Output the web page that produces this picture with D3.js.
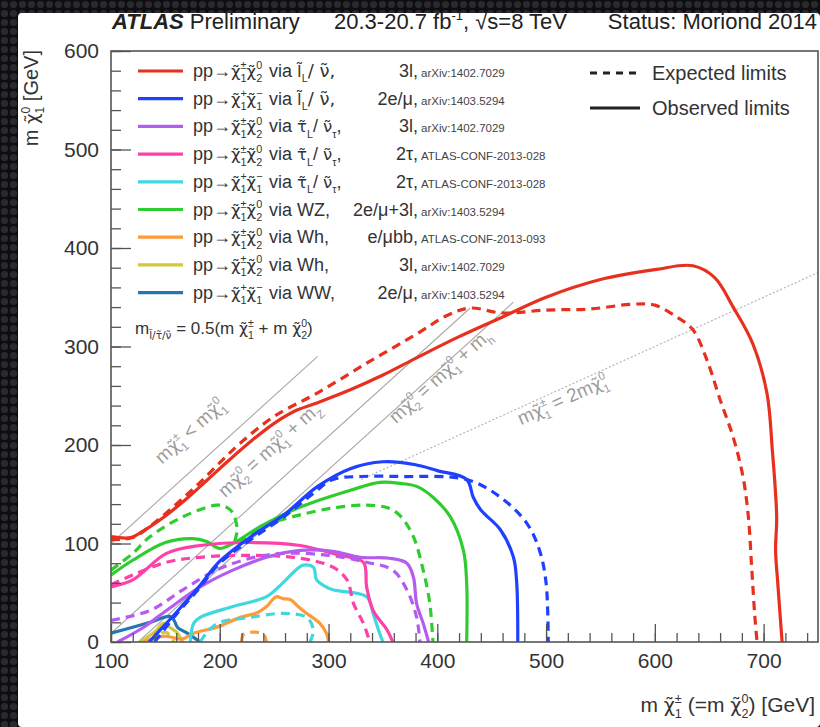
<!DOCTYPE html>
<html><head><meta charset="utf-8">
<script src="https://cdn.jsdelivr.net/npm/d3@7"></script>
<style>html,body{margin:0;padding:0;background:#151515;}svg{display:block;font-family:"Liberation Sans",Arial,sans-serif;}</style>
</head><body>
<svg id="chart" width="820" height="727"></svg>
<script>
// ---------- data ----------
const xTicks = [100, 200, 300, 400, 500, 600, 700];
const yTicks = [0, 100, 200, 300, 400, 500, 600];

const seriesColors = ["#e8301f", "#2040ff", "#b45cf0", "#ff40a8", "#40d8e0", "#2fcc2f", "#ff9a38", "#d2c83c", "#2277b0"];
const seriesVia = ["l", "l", "tau", "tau", "tau", "WZ", "Wh", "Wh", "WW"];
const seriesProd = ["C1N2", "C1C1", "C1N2", "C1N2", "C1C1", "C1N2", "C1N2", "C1N2", "C1C1"];
const seriesChannel = ["3l,", "2e/μ,", "3l,", "2τ,", "2τ,", "2e/μ+3l,", "e/μbb,", "3l,", "2e/μ,"];
const seriesRef = ["arXiv:1402.7029", "arXiv:1403.5294", "arXiv:1402.7029", "ATLAS-CONF-2013-028", "ATLAS-CONF-2013-028", "arXiv:1403.5294", "ATLAS-CONF-2013-093", "arXiv:1402.7029", "arXiv:1403.5294"];

// observed limits [m_chargino, m_LSP]
const obsRed = [[100,107],[118,106],[130,113],[150,128],[170,146],[190,166],[210,186],[230,205],[250,222],[270,235],[290,243],[320,256],[350,271],[380,288],[420,310],[460,330],[500,350],[550,368],[600,378],[635,382],[655,370],[672,340],[690,303],[703,253],[708,195],[712,127],[711,93],[713,60],[717,0]];
const obsBlue = [[135,0],[145,12],[160,30],[180,55],[200,82],[230,108],[260,130],[290,158],[320,176],[350,183],[380,180],[400,174],[427,165],[433,147],[440,134],[458,114],[470,86],[473,60],[474,0]];
const obsPurple = [[106,0],[130,15],[151,32],[182,56],[212,73],[243,86],[274,93],[304,92],[329,86],[356,85],[372,80],[378,66],[381,39],[387,19],[392,0]];
const obsPink = [[100,56],[120,63],[151,90],[182,98],[228,101],[274,98],[310,88],[332,81],[335,56],[341,32],[354,12],[359,0]];
const obsCyan = [[173,0],[176,19],[182,25],[212,36],[243,46],[258,60],[272,75],[277,78],[286,76],[289,63],[296,57],[304,53],[335,46],[341,29],[346,12],[350,0]];
const obsGreen = [[100,68],[120,83],[150,101],[175,105],[188,102],[200,95],[212,100],[237,117],[274,137],[320,154],[347,162],[366,161],[381,158],[396,147],[412,127],[424,93],[427,60],[427,0]];
const obsOrange = [[130,0],[140,4],[150,6],[165,3],[176,9],[197,15],[219,25],[235,30],[243,36],[252,46],[258,44],[265,43],[272,36],[280,29],[292,19],[298,9],[300,0]];
const obsYellow = [[127,0],[135,6],[142,12],[148,19],[154,15],[158,12],[161,9],[166,0]];
const obsTeal = [[100,9],[120,15],[136,20],[154,26],[158,22],[161,15],[170,9],[182,0]];

// expected limits
const expRed = [[100,104],[120,106],[140,121],[160,140],[180,160],[200,182],[220,203],[250,229],[290,253],[335,283],[380,312],[410,332],[430,339],[460,334],[500,337],[540,338],[580,343],[600,342],[620,330],[635,317],[648,286],[660,246],[672,208],[681,168],[686,127],[689,76],[692,25],[694,0]];
const expBlue = [[140,0],[160,28],[180,53],[200,80],[230,105],[260,128],[285,150],[304,165],[330,168],[366,168],[427,165],[458,147],[482,121],[494,93],[500,60],[502,0]];
const expPurple = [[100,22],[136,32],[166,53],[197,73],[228,85],[258,90],[300,88],[335,81],[359,73],[372,53],[381,25],[384,0]];
const expPink = [[100,58],[120,68],[151,81],[182,86],[228,88],[274,85],[304,76],[317,63],[323,39],[332,19],[338,0]];
const expCyan = [[182,0],[190,12],[200,20],[228,25],[258,29],[280,25],[286,12],[283,0]];
const expGreen = [[100,73],[120,90],[136,107],[166,127],[197,139],[206,137],[212,131],[216,114],[214,100],[222,105],[240,118],[270,128],[304,136],[335,139],[355,136],[366,128],[378,107],[387,73],[393,40],[396,0]];
const expOrange = [[220,0],[222,8],[232,10],[240,8],[243,0]];
const expYellow = [[135,0],[142,6],[150,10],[155,6],[158,0]];
const expTeal = [];

const obsCurves = [obsRed, obsBlue, obsPurple, obsPink, obsCyan, obsGreen, obsOrange, obsYellow, obsTeal];
const expCurves = [expRed, expBlue, expPurple, expPink, expCyan, expGreen, expOrange, expYellow, expTeal];

// kinematic reference lines (data coordinates)
const refLines = [
  {x1: 100, y1: 100, x2: 290, y2: 290, dash: null},          // m(chi1+-) = m(chi1^0)
  {x1: 100, y1: 8.8, x2: 430, y2: 338.8, dash: null},        // m(chi2^0) = m(chi1^0) + mZ
  {x1: 125, y1: 0, x2: 470, y2: 345, dash: null},            // m(chi2^0) = m(chi1^0) + mh
  {x1: 330, y1: 165, x2: 750, y2: 375, dash: "2,2"}          // m(chi1+-) = 2 m(chi1^0)
];

// ---------- drawing ----------
const svg = d3.select("#chart");
const W = 820, H = 727;

const defs = svg.append("defs");
const pat = defs.append("pattern").attr("id", "dots").attr("width", 9).attr("height", 9).attr("patternUnits", "userSpaceOnUse");
pat.append("rect").attr("width", 9).attr("height", 9).attr("fill", "#0e0e10");
pat.append("circle").attr("cx", 4.5).attr("cy", 4.5).attr("r", 3.6).attr("fill", "#2a2a2e");
svg.append("rect").attr("width", W).attr("height", H).attr("fill", "url(#dots)");
svg.append("rect").attr("x", 18).attr("y", 13).attr("width", W - 18).attr("height", H - 13).attr("rx", 4).attr("fill", "#ffffff");

const x = d3.scaleLinear().domain([100, 750]).range([111, 818]);
const y = d3.scaleLinear().domain([0, 600]).range([642, 51]);

defs.append("clipPath").attr("id", "plotclip").append("rect")
  .attr("x", x(100)).attr("y", y(600)).attr("width", x(750) - x(100)).attr("height", y(0) - y(600));

const TILDE_FONT = "DejaVu Sans";
function styleTilde(ts, str) { if (str && str.indexOf("\u0303") >= 0) ts.attr("font-family", TILDE_FONT); return ts; }

// rich text helper: tokens are strings or [base, sup, sub]
function rich(t, tokens, fs, subScale) {
  const sc = subScale || 0.6;
  let off = 0;
  tokens.forEach(tok => {
    if (typeof tok === "string") {
      styleTilde(t.append("tspan").attr("dy", -off).text(tok), tok); off = 0;
    } else {
      const [b, sup, sub] = tok;
      if (b) {
        const bt = t.append("tspan").attr("dy", -off).text(b); off = 0;
        if (b.indexOf("\u0303") >= 0) bt.attr("font-family", TILDE_FONT).attr("font-size", fs * 0.92);
      }
      let w = 0;
      if (sup) {
        const s = t.append("tspan").attr("font-size", fs * sc).attr("dy", -fs * 0.42 - off).text(sup);
        off = -fs * 0.42; w = s.node().getComputedTextLength();
      }
      if (sub) {
        const s = t.append("tspan").attr("font-size", fs * sc).attr("dy", fs * 0.3 - off).text(sub);
        styleTilde(s, sub);
        if (sup) s.attr("dx", -w);
        off = fs * 0.3;
      }
    }
  });
}

const C1pm = ["χ\u0303", "±", "1"], C1p = ["χ\u0303", "+", "1"], C1m = ["χ\u0303", "−", "1"], N2 = ["χ\u0303", "0", "2"], N1 = ["χ\u0303", "0", "1"];

// reference lines
const gRef = svg.append("g").attr("clip-path", "url(#plotclip)");
gRef.selectAll("line").data(refLines).join("line")
  .attr("x1", d => x(d.x1)).attr("y1", d => y(d.y1)).attr("x2", d => x(d.x2)).attr("y2", d => y(d.y2))
  .attr("stroke", d => d.dash ? "#b0b0b0" : "#a8a8a8").attr("stroke-width", 1.1)
  .attr("stroke-dasharray", d => d.dash);

// reference line labels
const ang45 = Math.atan((y(0) - y(100)) / (x(200) - x(100))) * 180 / Math.PI;
const ang2 = Math.atan((y(0) - y(50)) / (x(200) - x(100))) * 180 / Math.PI;
const refLabels = [
  {x: 147, y: 180, a: ang45, tokens: ["m", C1pm, " < m", N1]},
  {x: 205, y: 146, a: ang45, tokens: ["m", N2, " = m", N1, " + m", ["", null, "Z"]]},
  {x: 362, y: 221, a: ang45, tokens: ["m", N2, " = m", N1, " + m", ["", null, "h"]]},
  {x: 477, y: 220, a: ang2, tokens: ["m", C1pm, " = 2m", N1]}
];
refLabels.forEach(l => {
  const t = svg.append("text").attr("transform", `translate(${x(l.x)},${y(l.y)}) rotate(${-l.a})`)
    .attr("font-size", 19).attr("fill", "#9c9c9c");
  rich(t, l.tokens, 19);
});
{
  const t = svg.append("text").attr("x", 135).attr("y", 334).attr("font-size", 17).attr("fill", "#333");
  rich(t, ["m", ["", null, "l\u0303/τ\u0303/ν\u0303"], " = 0.5(m ", C1pm, " + m ", N2, ")"], 17, 0.62);
}

// curves
const line = d3.line().x(d => x(d[0])).y(d => y(d[1])).curve(d3.curveCatmullRom.alpha(0.5));
const gCurves = svg.append("g").attr("clip-path", "url(#plotclip)");
for (let i = seriesColors.length - 1; i >= 0; i--) {
  if (expCurves[i].length) gCurves.append("path").attr("d", line(expCurves[i])).attr("fill", "none")
    .attr("stroke", seriesColors[i]).attr("stroke-width", 3.2).attr("stroke-dasharray", "9,6");
  if (obsCurves[i].length) gCurves.append("path").attr("d", line(obsCurves[i])).attr("fill", "none")
    .attr("stroke", seriesColors[i]).attr("stroke-width", 3.2);
}

// axes
const axColor = "#555";
const gx = svg.append("g").attr("transform", `translate(0,${y(0)})`);
gx.call(d3.axisBottom(x).tickValues(d3.range(100, 751, 20)).tickSize(-9).tickFormat(""));
gx.append("g").call(d3.axisBottom(x).tickValues(xTicks).tickSize(-18).tickPadding(11).tickFormat(d3.format("d")));
const gy = svg.append("g").attr("transform", `translate(${x(100)},0)`);
gy.call(d3.axisLeft(y).tickValues(d3.range(0, 601, 20)).tickSize(-10).tickFormat(""));
gy.append("g").call(d3.axisLeft(y).tickValues(yTicks).tickSize(-20).tickPadding(12).tickFormat(d3.format("d")));
svg.selectAll(".domain").remove();
svg.selectAll(".tick text").filter(function () { return this.textContent === ""; }).remove();
svg.selectAll(".tick line").attr("stroke", axColor).attr("stroke-width", 1.3);
svg.selectAll(".tick text").attr("font-size", 21).attr("fill", "#333").attr("font-family", "Liberation Sans, Arial, sans-serif");

svg.append("rect").attr("x", x(100)).attr("y", y(600)).attr("width", x(750) - x(100)).attr("height", y(0) - y(600))
  .attr("fill", "none").attr("stroke", axColor).attr("stroke-width", 1.6);

// axis titles
{
  const t = svg.append("text").attr("text-anchor", "end").attr("x", 815).attr("y", 712).attr("font-size", 21).attr("fill", "#333");
  rich(t, ["m ", C1pm, " (=m ", N2, ") [GeV]"], 21);
  const ty = svg.append("text").attr("text-anchor", "end").attr("transform", "translate(38,50) rotate(-90)").attr("font-size", 20).attr("fill", "#333");
  rich(ty, ["m ", N1, " [GeV]"], 20);
}

// header
{
  const t = svg.append("text").attr("x", 112).attr("y", 29).attr("font-size", 22).attr("fill", "#222");
  t.append("tspan").attr("font-weight", "bold").attr("font-style", "italic").text("ATLAS");
  t.append("tspan").text(" Preliminary");
  const t2 = svg.append("text").attr("x", 334).attr("y", 29).attr("font-size", 22).attr("fill", "#222");
  t2.append("tspan").text("20.3-20.7 fb");
  t2.append("tspan").attr("font-size", 13).attr("dy", -9).text("-1");
  t2.append("tspan").attr("dy", 9).text(", √s=8 TeV");
  svg.append("text").attr("x", 817).attr("y", 29).attr("text-anchor", "end").attr("font-size", 22).attr("fill", "#222").text("Status: Moriond 2014");
}

// legend
const viaTokens = {
  l: [" via ", ["l\u0303", null, "L"], "/ ν\u0303,"],
  tau: [" via ", ["τ\u0303", null, "L"], "/ ", ["ν\u0303", null, "τ"], ","],
  WZ: [" via WZ,"], Wh: [" via Wh,"], WW: [" via WW,"]
};
const prodTokens = { C1N2: [C1pm, N2], C1C1: [C1p, C1m] };
const legY0 = 71, legDY = 27.7, fsL = 18;
seriesColors.forEach((c, i) => {
  const yy = legY0 + i * legDY;
  svg.append("line").attr("x1", 138).attr("x2", 183).attr("y1", yy).attr("y2", yy).attr("stroke", c).attr("stroke-width", 3.2);
  const t = svg.append("text").attr("x", 193).attr("y", yy + 6).attr("font-size", fsL).attr("fill", "#333");
  rich(t, ["pp→", ...prodTokens[seriesProd[i]]], fsL);
  const t2 = svg.append("text").attr("x", 269).attr("y", yy + 6).attr("font-size", fsL).attr("fill", "#333");
  rich(t2, viaTokens[seriesVia[i]], fsL);
  svg.append("text").attr("x", 418).attr("y", yy + 6).attr("text-anchor", "end").attr("font-size", fsL).attr("fill", "#333").text(seriesChannel[i]);
  svg.append("text").attr("x", 421).attr("y", yy + 6).attr("font-size", 11.5).attr("fill", "#444").text(seriesRef[i]);
});
// style legend
const styleLeg = [{label: "Expected limits", dash: "7,6", y: 73}, {label: "Observed limits", dash: null, y: 108}];
styleLeg.forEach(s => {
  svg.append("line").attr("x1", 590).attr("x2", 640).attr("y1", s.y).attr("y2", s.y).attr("stroke", "#222")
    .attr("stroke-width", 3.2).attr("stroke-dasharray", s.dash);
  svg.append("text").attr("x", 652).attr("y", s.y + 7).attr("font-size", 20).attr("fill", "#333").text(s.label);
});
</script>
</body></html>
